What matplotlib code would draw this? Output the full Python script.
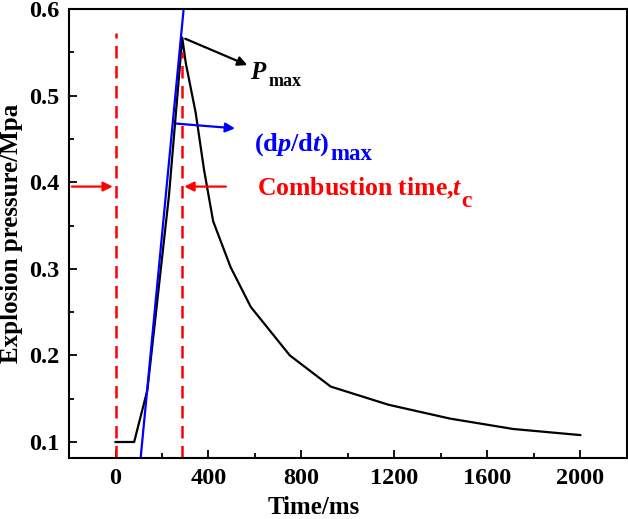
import matplotlib
matplotlib.use('Agg')
import matplotlib.pyplot as plt
from matplotlib.ticker import MultipleLocator

plt.rcParams['font.family'] = 'Liberation Serif'
plt.rcParams['font.weight'] = 'bold'
plt.rcParams['mathtext.fontset'] = 'custom'
plt.rcParams['mathtext.rm'] = 'Liberation Serif:bold'
plt.rcParams['mathtext.it'] = 'Liberation Serif:italic:bold'
plt.rcParams['mathtext.bf'] = 'Liberation Serif:bold'

# pressure curve
time_ms = [0, 80, 137, 230, 287, 302, 345, 381, 420, 495, 582, 750, 926, 1175, 1440, 1712, 2000]
pressure = [0.1, 0.1, 0.16, 0.385, 0.567, 0.538, 0.48, 0.414, 0.355, 0.302, 0.256, 0.2,
            0.164, 0.143, 0.127, 0.115, 0.108]

# tangent line for (dp/dt)max
tangent_t = [108, 293]
tangent_p = [0.0815, 0.6]

t_start = 0
t_end = 284
arrow_p = 0.395


def label_with_sub(ax, x, y, main, sub, sub_y, color, size, sub_size, gap=0.5):
    # main text on its baseline, subscript placed right after it
    t = ax.text(x, y, main, color=color, fontsize=size, fontweight='bold',
                va='baseline', ha='left')
    ax.annotate(sub, xy=(1, sub_y), xycoords=(t, 'data'), xytext=(gap, 0),
                textcoords='offset points', color=color, fontsize=sub_size,
                fontweight='bold', va='baseline', ha='left')
    return t


fig = plt.figure(figsize=(6.28, 5.19), dpi=100)
ax = fig.add_axes([0.110, 0.1175, 0.888, 0.865])

ax.plot(time_ms, pressure, color='black', lw=1.6)
ax.plot(tangent_t, tangent_p, color='#0000ff', lw=1.6)

ax.plot([t_start, t_start], [0.0815, 0.572], color='red', lw=1.8, ls=(0, (5, 3)))
ax.plot([t_end, t_end], [0.0815, 0.55], color='red', lw=1.8, ls=(0, (5, 3)))

# red arrows for combustion time
ax.annotate('', xy=(t_start, arrow_p), xytext=(-200, arrow_p),
            arrowprops=dict(arrowstyle='-|>', color='red', lw=1.6, mutation_scale=14))
ax.annotate('', xy=(t_end, arrow_p), xytext=(487, arrow_p),
            arrowprops=dict(arrowstyle='-|>', color='red', lw=1.6, mutation_scale=14))
label_with_sub(ax, 610, 0.385, r'Combustion time,$\mathit{t}$', 'c', 0.3714,
               'red', 18.5, 17, gap=-1.5)

# blue arrow for dp/dt
ax.annotate('', xy=(526, 0.462), xytext=(250, 0.468),
            arrowprops=dict(arrowstyle='-|>', color='#0000ff', lw=1.6, mutation_scale=14))
label_with_sub(ax, 595, 0.437, r'(d$\mathit{p}$/d$\mathit{t}$)', 'max', 0.4256,
               '#0000ff', 19, 16.5)

# black arrow for Pmax
ax.annotate('', xy=(578, 0.534), xytext=(289, 0.567),
            arrowprops=dict(arrowstyle='-|>', color='black', lw=1.6, mutation_scale=14))
label_with_sub(ax, 580, 0.519, r'$\mathit{P}$', 'max', 0.511, 'black', 18, 13)

ax.set_xlim(-200, 2200)
ax.set_ylim(0.0815, 0.6)
ax.xaxis.set_major_locator(MultipleLocator(400))
ax.xaxis.set_minor_locator(MultipleLocator(200))
ax.yaxis.set_major_locator(MultipleLocator(0.1))
ax.yaxis.set_minor_locator(MultipleLocator(0.05))
ax.tick_params(which='both', direction='in', width=1.3)
ax.tick_params(which='major', length=6, labelsize=17.5, pad=7)
ax.tick_params(which='minor', length=3.5)
for s in ax.spines.values():
    s.set_linewidth(1.5)
for lab in ax.get_xticklabels() + ax.get_yticklabels():
    lab.set_fontweight('bold')

ax.set_xlabel('Time/ms', fontsize=18, fontweight='bold')
ax.xaxis.set_label_coords(0.439, -0.084)
ax.set_ylabel('Explosion pressure/Mpa', fontsize=18, fontweight='bold', labelpad=4.5)

fig.savefig('out.png', dpi=100)
